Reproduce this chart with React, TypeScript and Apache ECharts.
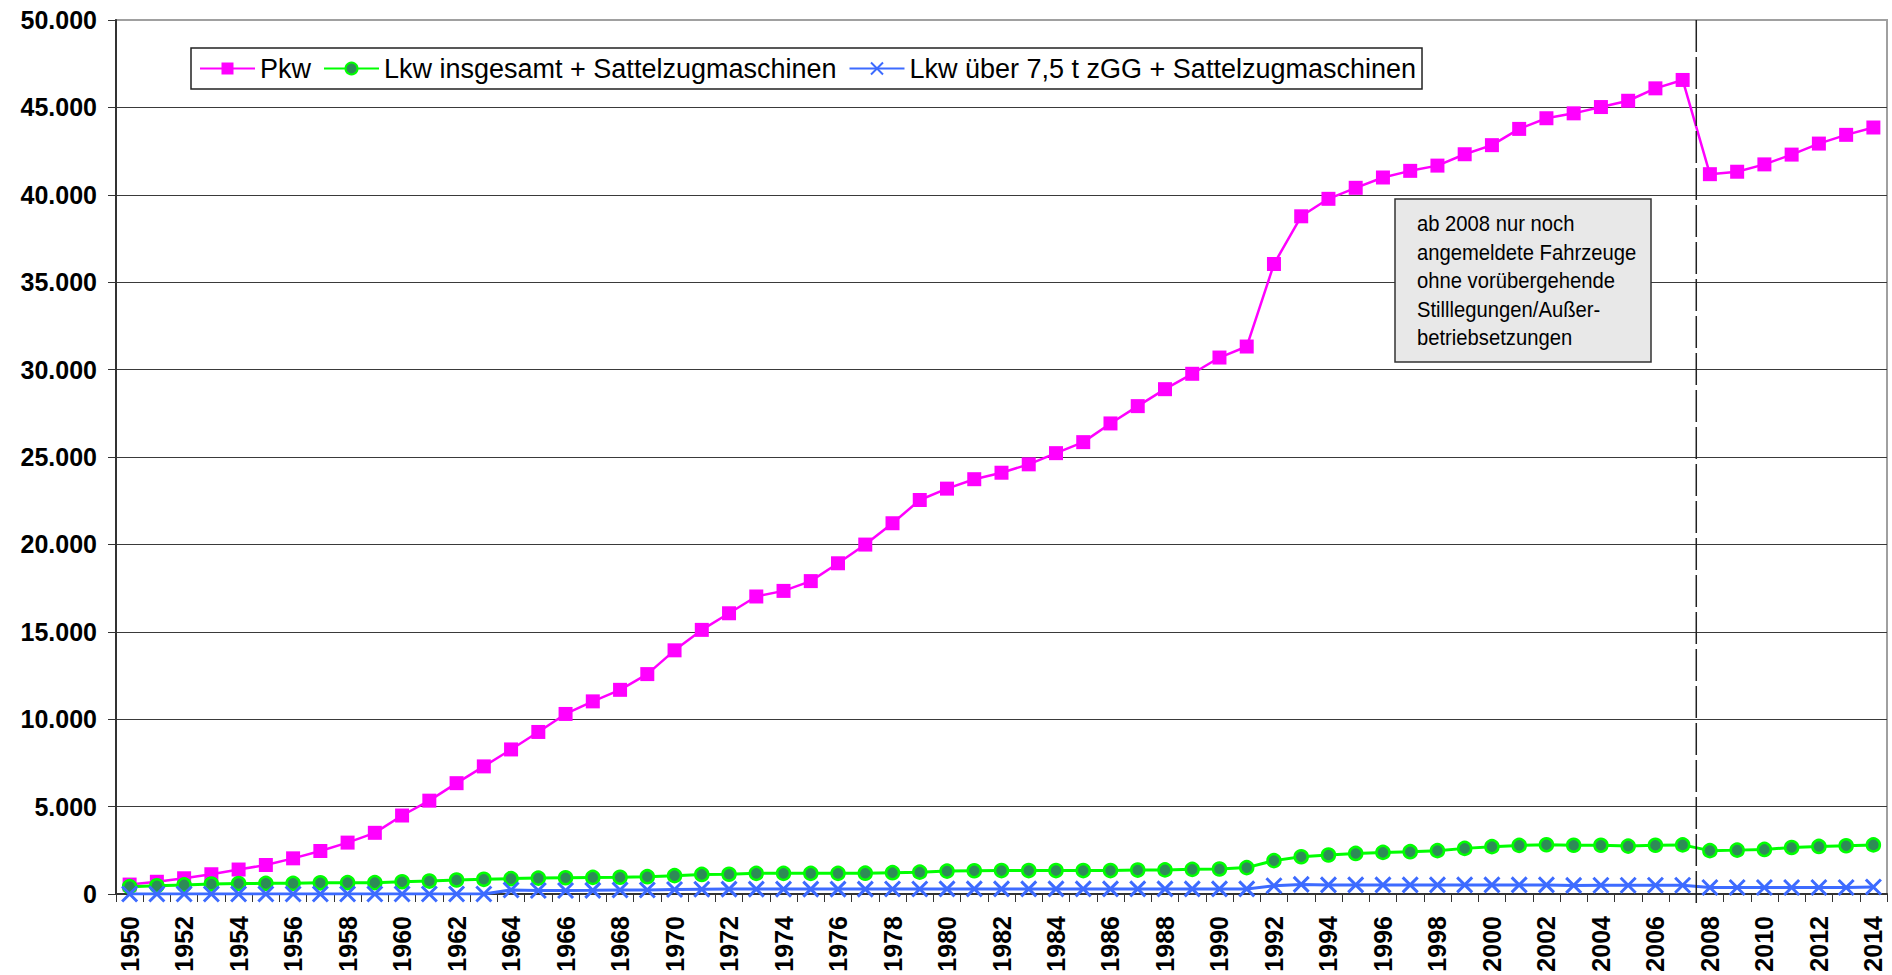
import React, { useEffect, useRef } from "react";
import * as echarts from "echarts";

const years = [
  "1950","1951","1952","1953","1954","1955","1956","1957","1958","1959",
  "1960","1961","1962","1963","1964","1965","1966","1967","1968","1969",
  "1970","1971","1972","1973","1974","1975","1976","1977","1978","1979",
  "1980","1981","1982","1983","1984","1985","1986","1987","1988","1989",
  "1990","1991","1992","1993","1994","1995","1996","1997","1998","1999",
  "2000","2001","2002","2003","2004","2005","2006","2007","2008","2009",
  "2010","2011","2012","2013","2014",
];

// Bestand in 1.000
const pkw = [
  540, 700, 900, 1130, 1400, 1660, 2040, 2460, 2940, 3500,
  4490, 5340, 6340, 7300, 8270, 9270, 10300, 11020, 11680, 12580,
  13940, 15110, 16060, 17020, 17340, 17900, 18920, 19990, 21210, 22540,
  23190, 23730, 24100, 24580, 25220, 25850, 26920, 27910, 28880, 29760,
  30690, 31320, 36040, 38770, 39770, 40400, 40990, 41370, 41670, 42320,
  42840, 43770, 44380, 44660, 45020, 45380, 46090, 46570, 41180, 41320,
  41740, 42300, 42930, 43430, 43850,
];

const lkwGesamt = [
  420, 470, 520, 570, 600, 610, 610, 640, 650, 650,
  700, 740, 800, 840, 880, 910, 930, 950, 960, 990,
  1050, 1120, 1130, 1180, 1180, 1180, 1180, 1190, 1220, 1250,
  1310, 1330, 1340, 1340, 1340, 1340, 1340, 1370, 1380, 1410,
  1430, 1510, 1910, 2130, 2230, 2320, 2380, 2420, 2480, 2610,
  2710, 2780, 2820, 2790, 2790, 2740, 2790, 2810, 2480, 2510,
  2550, 2660, 2720, 2760, 2810,
];

const lkwSchwer = [
  0, 0, 0, 0, 0, 0, 0, 0, 0, 0,
  0, 0, 0, 0, 230, 200, 200, 210, 230, 230,
  260, 270, 280, 280, 280, 280, 280, 280, 285, 285,
  290, 290, 290, 290, 290, 290, 290, 290, 290, 290,
  290, 290, 470, 550, 520, 520, 520, 520, 520, 520,
  520, 520, 520, 490, 500, 500, 500, 500, 370, 370,
  370, 370, 370, 370, 400,
];

const seriesNames = [
  "Pkw",
  "Lkw insgesamt + Sattelzugmaschinen",
  "Lkw über 7,5 t zGG + Sattelzugmaschinen",
];

const yTicks = { min: 0, max: 50000, interval: 5000 };

const noteLines = [
  "ab 2008 nur noch",
  "angemeldete Fahrzeuge",
  "ohne vorübergehende",
  "Stilllegungen/Außer-",
  "betriebsetzungen",
];

const FONT = "'Liberation Sans', Arial, Helvetica, sans-serif";

function fmt(v: number) {
  return String(v).replace(/\B(?=(\d{3})+(?!\d))/g, ".");
}

export default function App() {
  const ref = useRef<HTMLDivElement>(null);

  useEffect(() => {
    if (!ref.current) return;
    const chart = echarts.init(ref.current, null, { renderer: "svg" });

    const gridTop = 20;
    const gridBottom = 81;
    const H = 975;

    const splitColors: string[] = [];
    for (let i = 0; i < 11; i++) splitColors.push(i === 10 ? "#a0a0a0" : "#3a3a3a");

    chart.setOption({
      animation: false,
      backgroundColor: "#ffffff",
      textStyle: { fontFamily: FONT },
      grid: {
        left: 116,
        right: 5,
        top: gridTop,
        bottom: gridBottom,
        containLabel: false,
        show: true,
        borderColor: "#a0a0a0",
        borderWidth: 2,
        backgroundColor: "transparent",
      },
      legend: {
        left: 191,
        top: 48,
        orient: "horizontal",
        padding: [7, 6, 7, 8],
        itemGap: 12,
        itemWidth: 55,
        itemHeight: 15,
        borderColor: "#222",
        borderWidth: 1.5,
        backgroundColor: "#fff",
        textStyle: { fontFamily: FONT, fontSize: 27, color: "#000", padding: [0, 0, 0, 0] },
        data: seriesNames,
      },
      xAxis: {
        type: "category",
        data: years,
        boundaryGap: true,
        axisLine: { show: true, lineStyle: { color: "#333", width: 2 } },
        axisTick: {
          show: true,
          interval: 0,
          length: 8,
          lineStyle: { color: "#333", width: 1 },
        },
        axisLabel: {
          interval: 1,
          rotate: 90,
          margin: 22,
          fontFamily: FONT,
          fontSize: 25,
          fontWeight: "bold",
          color: "#000",
        },
        splitLine: { show: false },
      },
      yAxis: {
        type: "value",
        min: yTicks.min,
        max: yTicks.max,
        interval: yTicks.interval,
        axisLine: { show: true, lineStyle: { color: "#333", width: 2 } },
        axisTick: { show: true, length: 8, lineStyle: { color: "#333", width: 1 } },
        axisLabel: {
          margin: 19,
          fontFamily: FONT,
          fontSize: 25,
          fontWeight: "bold",
          color: "#000",
          formatter: (v: number) => fmt(v),
        },
        splitLine: { show: true, lineStyle: { color: splitColors, width: 1.2 } },
      },
      series: [
        {
          name: seriesNames[0],
          type: "line",
          data: pkw,
          symbol: "rect",
          symbolSize: 14,
          color: "#ff00ff",
          lineStyle: { color: "#ff00ff", width: 2.5 },
          itemStyle: { color: "#ff00ff", borderWidth: 0 },
          z: 3,
        },
        {
          name: seriesNames[1],
          type: "line",
          data: lkwGesamt,
          symbol: "circle",
          symbolSize: 13,
          color: "#00ff00",
          lineStyle: { color: "#00ff00", width: 3 },
          itemStyle: { color: "#2e8b57", borderColor: "#00ff00", borderWidth: 2.5 },
          z: 4,
        },
        {
          name: seriesNames[2],
          type: "line",
          data: lkwSchwer,
          symbol: "path://M0,0L10,10M10,0L0,10",
          symbolSize: 15,
          color: "#3d6bff",
          lineStyle: { color: "#3d6bff", width: 3 },
          itemStyle: { color: "#3d6bff", borderColor: "#3d6bff", borderWidth: 3 },
          z: 5,
        },
      ],
    });

    const x07 = chart.convertToPixel({ xAxisIndex: 0 }, "2007") as number;
    const x08 = chart.convertToPixel({ xAxisIndex: 0 }, "2008") as number;
    const xBreak = (x07 + x08) / 2;

    chart.setOption({
      graphic: [
        {
          type: "line",
          z: 50,
          shape: { x1: xBreak, y1: gridTop, x2: xBreak, y2: H - gridBottom + 9 },
          style: { stroke: "#222", lineWidth: 1.5, lineDash: [32, 5] },
        },
        {
          type: "rect",
          z: 60,
          shape: { x: 1395, y: 199, width: 256, height: 163 },
          style: { fill: "#e8e8e8", stroke: "#333", lineWidth: 1.5 },
        },
        {
          type: "text",
          z: 61,
          x: 1417,
          y: 209,
          scaleX: 0.92,
          style: {
            text: noteLines.join("\n"),
            fontFamily: FONT,
            fontSize: 22,
            lineHeight: 28.5,
            fill: "#000",
            align: "left",
            verticalAlign: "top",
          },
        },
      ],
    });

    return () => chart.dispose();
  }, []);

  return (
    <div
      ref={ref}
      style={{ position: "absolute", left: 0, top: 0, width: 1892, height: 975 }}
    />
  );
}
